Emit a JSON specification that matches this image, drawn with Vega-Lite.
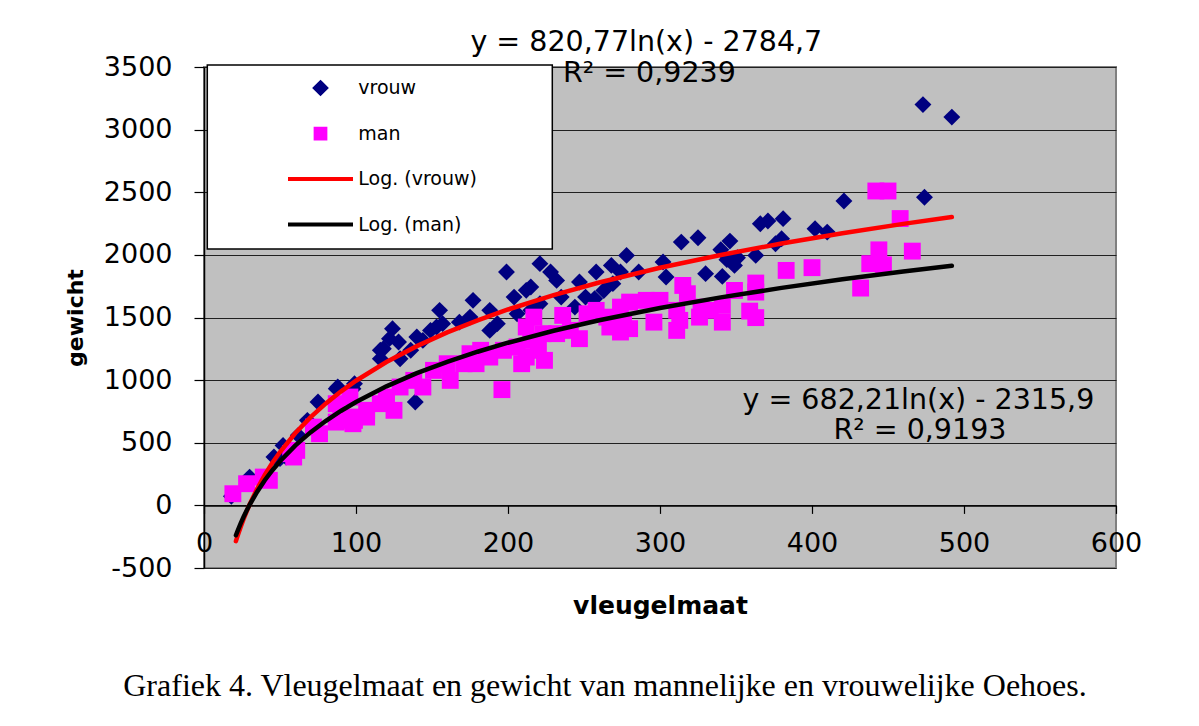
{
  "$schema": "https://vega.github.io/schema/vega-lite/v6.json",
  "autosize": "none",
  "width": 912,
  "height": 501,
  "padding": {"left": 204, "top": 67, "right": 83, "bottom": 158},
  "background": "white",
  "title": {
    "text": "Grafiek 4. Vleugelmaat en gewicht van mannelijke en vrouwelijke Oehoes.",
    "orient": "bottom", "frame": "group", "anchor": "middle", "dx": -55, "offset": 53,
    "font": "Liberation Serif", "fontSize": 32, "fontWeight": "normal", "color": "black"
  },
  "config": {
    "view": {"fill": "#C0C0C0", "stroke": "#808080", "strokeWidth": 2}
  },
  "datasets": {
    "punten": [
      {"serie": "vrouw", "vleugelmaat": 18, "gewicht": 72},
      {"serie": "vrouw", "vleugelmaat": 30, "gewicht": 226},
      {"serie": "vrouw", "vleugelmaat": 50, "gewicht": 373},
      {"serie": "vrouw", "vleugelmaat": 52, "gewicht": 479},
      {"serie": "vrouw", "vleugelmaat": 46, "gewicht": 386},
      {"serie": "vrouw", "vleugelmaat": 54, "gewicht": 386},
      {"serie": "vrouw", "vleugelmaat": 62, "gewicht": 559},
      {"serie": "vrouw", "vleugelmaat": 68, "gewicht": 679},
      {"serie": "vrouw", "vleugelmaat": 75, "gewicht": 825},
      {"serie": "vrouw", "vleugelmaat": 87, "gewicht": 932},
      {"serie": "vrouw", "vleugelmaat": 98, "gewicht": 932},
      {"serie": "vrouw", "vleugelmaat": 88, "gewicht": 945},
      {"serie": "vrouw", "vleugelmaat": 99, "gewicht": 972},
      {"serie": "vrouw", "vleugelmaat": 116, "gewicht": 1238},
      {"serie": "vrouw", "vleugelmaat": 122, "gewicht": 1331},
      {"serie": "vrouw", "vleugelmaat": 124, "gewicht": 1411},
      {"serie": "vrouw", "vleugelmaat": 128, "gewicht": 1304},
      {"serie": "vrouw", "vleugelmaat": 118, "gewicht": 1251},
      {"serie": "vrouw", "vleugelmaat": 116, "gewicht": 1171},
      {"serie": "vrouw", "vleugelmaat": 139, "gewicht": 825},
      {"serie": "vrouw", "vleugelmaat": 140, "gewicht": 1344},
      {"serie": "vrouw", "vleugelmaat": 149, "gewicht": 1397},
      {"serie": "vrouw", "vleugelmaat": 153, "gewicht": 1424},
      {"serie": "vrouw", "vleugelmaat": 157, "gewicht": 1451},
      {"serie": "vrouw", "vleugelmaat": 144, "gewicht": 1317},
      {"serie": "vrouw", "vleugelmaat": 136, "gewicht": 1238},
      {"serie": "vrouw", "vleugelmaat": 129, "gewicht": 1171},
      {"serie": "vrouw", "vleugelmaat": 155, "gewicht": 1557},
      {"serie": "vrouw", "vleugelmaat": 168, "gewicht": 1463},
      {"serie": "vrouw", "vleugelmaat": 175, "gewicht": 1503},
      {"serie": "vrouw", "vleugelmaat": 188, "gewicht": 1557},
      {"serie": "vrouw", "vleugelmaat": 193, "gewicht": 1451},
      {"serie": "vrouw", "vleugelmaat": 188, "gewicht": 1397},
      {"serie": "vrouw", "vleugelmaat": 177, "gewicht": 1637},
      {"serie": "vrouw", "vleugelmaat": 199, "gewicht": 1863},
      {"serie": "vrouw", "vleugelmaat": 204, "gewicht": 1663},
      {"serie": "vrouw", "vleugelmaat": 206, "gewicht": 1530},
      {"serie": "vrouw", "vleugelmaat": 212, "gewicht": 1717},
      {"serie": "vrouw", "vleugelmaat": 221, "gewicht": 1930},
      {"serie": "vrouw", "vleugelmaat": 228, "gewicht": 1863},
      {"serie": "vrouw", "vleugelmaat": 215, "gewicht": 1743},
      {"serie": "vrouw", "vleugelmaat": 232, "gewicht": 1796},
      {"serie": "vrouw", "vleugelmaat": 235, "gewicht": 1663},
      {"serie": "vrouw", "vleugelmaat": 247, "gewicht": 1783},
      {"serie": "vrouw", "vleugelmaat": 258, "gewicht": 1863},
      {"serie": "vrouw", "vleugelmaat": 268, "gewicht": 1916},
      {"serie": "vrouw", "vleugelmaat": 274, "gewicht": 1863},
      {"serie": "vrouw", "vleugelmaat": 269, "gewicht": 1770},
      {"serie": "vrouw", "vleugelmaat": 263, "gewicht": 1716},
      {"serie": "vrouw", "vleugelmaat": 251, "gewicht": 1663},
      {"serie": "vrouw", "vleugelmaat": 257, "gewicht": 1650},
      {"serie": "vrouw", "vleugelmaat": 244, "gewicht": 1583},
      {"serie": "vrouw", "vleugelmaat": 286, "gewicht": 1863},
      {"serie": "vrouw", "vleugelmaat": 215, "gewicht": 1557},
      {"serie": "vrouw", "vleugelmaat": 221, "gewicht": 1610},
      {"serie": "vrouw", "vleugelmaat": 278, "gewicht": 1996},
      {"serie": "vrouw", "vleugelmaat": 302, "gewicht": 1943},
      {"serie": "vrouw", "vleugelmaat": 304, "gewicht": 1823},
      {"serie": "vrouw", "vleugelmaat": 314, "gewicht": 2102},
      {"serie": "vrouw", "vleugelmaat": 325, "gewicht": 2137},
      {"serie": "vrouw", "vleugelmaat": 330, "gewicht": 1850},
      {"serie": "vrouw", "vleugelmaat": 346, "gewicht": 2110},
      {"serie": "vrouw", "vleugelmaat": 340, "gewicht": 2041},
      {"serie": "vrouw", "vleugelmaat": 351, "gewicht": 1977},
      {"serie": "vrouw", "vleugelmaat": 344, "gewicht": 1962},
      {"serie": "vrouw", "vleugelmaat": 349, "gewicht": 1916},
      {"serie": "vrouw", "vleugelmaat": 363, "gewicht": 1996},
      {"serie": "vrouw", "vleugelmaat": 341, "gewicht": 1828},
      {"serie": "vrouw", "vleugelmaat": 366, "gewicht": 2249},
      {"serie": "vrouw", "vleugelmaat": 371, "gewicht": 2270},
      {"serie": "vrouw", "vleugelmaat": 381, "gewicht": 2289},
      {"serie": "vrouw", "vleugelmaat": 380, "gewicht": 2129},
      {"serie": "vrouw", "vleugelmaat": 376, "gewicht": 2089},
      {"serie": "vrouw", "vleugelmaat": 402, "gewicht": 2209},
      {"serie": "vrouw", "vleugelmaat": 410, "gewicht": 2182},
      {"serie": "vrouw", "vleugelmaat": 421, "gewicht": 2430},
      {"serie": "vrouw", "vleugelmaat": 474, "gewicht": 2460},
      {"serie": "vrouw", "vleugelmaat": 473, "gewicht": 3200},
      {"serie": "vrouw", "vleugelmaat": 492, "gewicht": 3100},
      {"serie": "man", "vleugelmaat": 19, "gewicht": 93},
      {"serie": "man", "vleugelmaat": 28, "gewicht": 173},
      {"serie": "man", "vleugelmaat": 39, "gewicht": 226},
      {"serie": "man", "vleugelmaat": 43, "gewicht": 200},
      {"serie": "man", "vleugelmaat": 57, "gewicht": 413},
      {"serie": "man", "vleugelmaat": 61, "gewicht": 439},
      {"serie": "man", "vleugelmaat": 59, "gewicht": 386},
      {"serie": "man", "vleugelmaat": 72, "gewicht": 625},
      {"serie": "man", "vleugelmaat": 76, "gewicht": 572},
      {"serie": "man", "vleugelmaat": 90, "gewicht": 679},
      {"serie": "man", "vleugelmaat": 98, "gewicht": 652},
      {"serie": "man", "vleugelmaat": 107, "gewicht": 705},
      {"serie": "man", "vleugelmaat": 120, "gewicht": 825},
      {"serie": "man", "vleugelmaat": 125, "gewicht": 759},
      {"serie": "man", "vleugelmaat": 87, "gewicht": 812},
      {"serie": "man", "vleugelmaat": 96, "gewicht": 865},
      {"serie": "man", "vleugelmaat": 98, "gewicht": 705},
      {"serie": "man", "vleugelmaat": 107, "gewicht": 759},
      {"serie": "man", "vleugelmaat": 116, "gewicht": 812},
      {"serie": "man", "vleugelmaat": 120, "gewicht": 865},
      {"serie": "man", "vleugelmaat": 129, "gewicht": 945},
      {"serie": "man", "vleugelmaat": 138, "gewicht": 998},
      {"serie": "man", "vleugelmaat": 144, "gewicht": 945},
      {"serie": "man", "vleugelmaat": 151, "gewicht": 1078},
      {"serie": "man", "vleugelmaat": 160, "gewicht": 1131},
      {"serie": "man", "vleugelmaat": 162, "gewicht": 998},
      {"serie": "man", "vleugelmaat": 171, "gewicht": 1131},
      {"serie": "man", "vleugelmaat": 175, "gewicht": 1211},
      {"serie": "man", "vleugelmaat": 182, "gewicht": 1238},
      {"serie": "man", "vleugelmaat": 188, "gewicht": 1184},
      {"serie": "man", "vleugelmaat": 179, "gewicht": 1131},
      {"serie": "man", "vleugelmaat": 197, "gewicht": 1238},
      {"serie": "man", "vleugelmaat": 206, "gewicht": 1264},
      {"serie": "man", "vleugelmaat": 209, "gewicht": 1131},
      {"serie": "man", "vleugelmaat": 212, "gewicht": 1184},
      {"serie": "man", "vleugelmaat": 215, "gewicht": 1317},
      {"serie": "man", "vleugelmaat": 87, "gewicht": 665},
      {"serie": "man", "vleugelmaat": 99, "gewicht": 679},
      {"serie": "man", "vleugelmaat": 196, "gewicht": 924},
      {"serie": "man", "vleugelmaat": 217, "gewicht": 1503},
      {"serie": "man", "vleugelmaat": 212, "gewicht": 1424},
      {"serie": "man", "vleugelmaat": 223, "gewicht": 1371},
      {"serie": "man", "vleugelmaat": 220, "gewicht": 1238},
      {"serie": "man", "vleugelmaat": 224, "gewicht": 1158},
      {"serie": "man", "vleugelmaat": 236, "gewicht": 1517},
      {"serie": "man", "vleugelmaat": 241, "gewicht": 1397},
      {"serie": "man", "vleugelmaat": 247, "gewicht": 1331},
      {"serie": "man", "vleugelmaat": 232, "gewicht": 1371},
      {"serie": "man", "vleugelmaat": 258, "gewicht": 1557},
      {"serie": "man", "vleugelmaat": 265, "gewicht": 1503},
      {"serie": "man", "vleugelmaat": 252, "gewicht": 1530},
      {"serie": "man", "vleugelmaat": 276, "gewicht": 1477},
      {"serie": "man", "vleugelmaat": 280, "gewicht": 1411},
      {"serie": "man", "vleugelmaat": 267, "gewicht": 1424},
      {"serie": "man", "vleugelmaat": 274, "gewicht": 1384},
      {"serie": "man", "vleugelmaat": 300, "gewicht": 1637},
      {"serie": "man", "vleugelmaat": 291, "gewicht": 1637},
      {"serie": "man", "vleugelmaat": 280, "gewicht": 1623},
      {"serie": "man", "vleugelmaat": 274, "gewicht": 1583},
      {"serie": "man", "vleugelmaat": 296, "gewicht": 1463},
      {"serie": "man", "vleugelmaat": 311, "gewicht": 1397},
      {"serie": "man", "vleugelmaat": 313, "gewicht": 1477},
      {"serie": "man", "vleugelmaat": 315, "gewicht": 1756},
      {"serie": "man", "vleugelmaat": 318, "gewicht": 1690},
      {"serie": "man", "vleugelmaat": 311, "gewicht": 1557},
      {"serie": "man", "vleugelmaat": 327, "gewicht": 1583},
      {"serie": "man", "vleugelmaat": 326, "gewicht": 1503},
      {"serie": "man", "vleugelmaat": 341, "gewicht": 1597},
      {"serie": "man", "vleugelmaat": 333, "gewicht": 1557},
      {"serie": "man", "vleugelmaat": 359, "gewicht": 1551},
      {"serie": "man", "vleugelmaat": 363, "gewicht": 1499},
      {"serie": "man", "vleugelmaat": 341, "gewicht": 1463},
      {"serie": "man", "vleugelmaat": 363, "gewicht": 1775},
      {"serie": "man", "vleugelmaat": 349, "gewicht": 1716},
      {"serie": "man", "vleugelmaat": 363, "gewicht": 1703},
      {"serie": "man", "vleugelmaat": 383, "gewicht": 1876},
      {"serie": "man", "vleugelmaat": 400, "gewicht": 1898},
      {"serie": "man", "vleugelmaat": 432, "gewicht": 1735},
      {"serie": "man", "vleugelmaat": 438, "gewicht": 1930},
      {"serie": "man", "vleugelmaat": 447, "gewicht": 1920},
      {"serie": "man", "vleugelmaat": 444, "gewicht": 2040},
      {"serie": "man", "vleugelmaat": 466, "gewicht": 2030},
      {"serie": "man", "vleugelmaat": 458, "gewicht": 2290},
      {"serie": "man", "vleugelmaat": 442, "gewicht": 2510},
      {"serie": "man", "vleugelmaat": 450, "gewicht": 2510}
    ],
    "trend": [
      {"serie": "Log. (vrouw)", "vleugelmaat": 21, "gewicht": -285.9},
      {"serie": "Log. (vrouw)", "vleugelmaat": 22, "gewicht": -247.7},
      {"serie": "Log. (vrouw)", "vleugelmaat": 24, "gewicht": -176.3},
      {"serie": "Log. (vrouw)", "vleugelmaat": 26, "gewicht": -110.5},
      {"serie": "Log. (vrouw)", "vleugelmaat": 28, "gewicht": -49.7},
      {"serie": "Log. (vrouw)", "vleugelmaat": 30, "gewicht": 6.9},
      {"serie": "Log. (vrouw)", "vleugelmaat": 35, "gewicht": 133.4},
      {"serie": "Log. (vrouw)", "vleugelmaat": 40, "gewicht": 243.0},
      {"serie": "Log. (vrouw)", "vleugelmaat": 45, "gewicht": 339.7},
      {"serie": "Log. (vrouw)", "vleugelmaat": 50, "gewicht": 426.2},
      {"serie": "Log. (vrouw)", "vleugelmaat": 60, "gewicht": 575.8},
      {"serie": "Log. (vrouw)", "vleugelmaat": 70, "gewicht": 702.3},
      {"serie": "Log. (vrouw)", "vleugelmaat": 80, "gewicht": 811.9},
      {"serie": "Log. (vrouw)", "vleugelmaat": 90, "gewicht": 908.6},
      {"serie": "Log. (vrouw)", "vleugelmaat": 100, "gewicht": 995.1},
      {"serie": "Log. (vrouw)", "vleugelmaat": 120, "gewicht": 1144.7},
      {"serie": "Log. (vrouw)", "vleugelmaat": 140, "gewicht": 1271.3},
      {"serie": "Log. (vrouw)", "vleugelmaat": 160, "gewicht": 1380.9},
      {"serie": "Log. (vrouw)", "vleugelmaat": 180, "gewicht": 1477.5},
      {"serie": "Log. (vrouw)", "vleugelmaat": 200, "gewicht": 1564.0},
      {"serie": "Log. (vrouw)", "vleugelmaat": 230, "gewicht": 1678.7},
      {"serie": "Log. (vrouw)", "vleugelmaat": 260, "gewicht": 1779.3},
      {"serie": "Log. (vrouw)", "vleugelmaat": 300, "gewicht": 1896.8},
      {"serie": "Log. (vrouw)", "vleugelmaat": 340, "gewicht": 1999.5},
      {"serie": "Log. (vrouw)", "vleugelmaat": 380, "gewicht": 2090.8},
      {"serie": "Log. (vrouw)", "vleugelmaat": 420, "gewicht": 2173.0},
      {"serie": "Log. (vrouw)", "vleugelmaat": 460, "gewicht": 2247.6},
      {"serie": "Log. (vrouw)", "vleugelmaat": 492, "gewicht": 2302.8},
      {"serie": "Log. (man)", "vleugelmaat": 21, "gewicht": -238.9},
      {"serie": "Log. (man)", "vleugelmaat": 22, "gewicht": -207.2},
      {"serie": "Log. (man)", "vleugelmaat": 24, "gewicht": -147.8},
      {"serie": "Log. (man)", "vleugelmaat": 26, "gewicht": -93.2},
      {"serie": "Log. (man)", "vleugelmaat": 28, "gewicht": -42.6},
      {"serie": "Log. (man)", "vleugelmaat": 30, "gewicht": 4.4},
      {"serie": "Log. (man)", "vleugelmaat": 35, "gewicht": 109.6},
      {"serie": "Log. (man)", "vleugelmaat": 40, "gewicht": 200.7},
      {"serie": "Log. (man)", "vleugelmaat": 45, "gewicht": 281.0},
      {"serie": "Log. (man)", "vleugelmaat": 50, "gewicht": 352.9},
      {"serie": "Log. (man)", "vleugelmaat": 60, "gewicht": 477.3},
      {"serie": "Log. (man)", "vleugelmaat": 70, "gewicht": 582.5},
      {"serie": "Log. (man)", "vleugelmaat": 80, "gewicht": 673.6},
      {"serie": "Log. (man)", "vleugelmaat": 90, "gewicht": 753.9},
      {"serie": "Log. (man)", "vleugelmaat": 100, "gewicht": 825.8},
      {"serie": "Log. (man)", "vleugelmaat": 120, "gewicht": 950.2},
      {"serie": "Log. (man)", "vleugelmaat": 140, "gewicht": 1055.3},
      {"serie": "Log. (man)", "vleugelmaat": 160, "gewicht": 1146.4},
      {"serie": "Log. (man)", "vleugelmaat": 180, "gewicht": 1226.8},
      {"serie": "Log. (man)", "vleugelmaat": 200, "gewicht": 1298.7},
      {"serie": "Log. (man)", "vleugelmaat": 230, "gewicht": 1394.0},
      {"serie": "Log. (man)", "vleugelmaat": 260, "gewicht": 1477.7},
      {"serie": "Log. (man)", "vleugelmaat": 300, "gewicht": 1575.3},
      {"serie": "Log. (man)", "vleugelmaat": 340, "gewicht": 1660.7},
      {"serie": "Log. (man)", "vleugelmaat": 380, "gewicht": 1736.5},
      {"serie": "Log. (man)", "vleugelmaat": 420, "gewicht": 1804.8},
      {"serie": "Log. (man)", "vleugelmaat": 460, "gewicht": 1866.9},
      {"serie": "Log. (man)", "vleugelmaat": 492, "gewicht": 1912.8}
    ],
    "teksten": [
      {"vleugelmaat": 291, "gewicht": 3697, "tekst": "y = 820,77ln(x) - 2784,7"},
      {"vleugelmaat": 293, "gewicht": 3449, "tekst": "R² = 0,9239"},
      {"vleugelmaat": 470, "gewicht": 838, "tekst": "y = 682,21ln(x) - 2315,9"},
      {"vleugelmaat": 471, "gewicht": 599, "tekst": "R² = 0,9193"}
    ]
  },
  "layer": [
    {
      "data": {"name": "punten"},
      "mark": {"type": "point", "filled": true, "size": 285, "opacity": 1, "strokeWidth": 0},
      "encoding": {
        "x": {
          "field": "vleugelmaat", "type": "quantitative", "title": "vleugelmaat",
          "scale": {"domain": [0, 600], "nice": false, "zero": false},
          "axis": {
            "values": [0, 100, 200, 300, 400, 500, 600], "offset": -62.6, "grid": false,
            "domainColor": "black", "domainWidth": 1.5, "tickColor": "black", "tickSize": 8, "tickWidth": 1.2,
            "labelPadding": 17, "labelFont": "DejaVu Sans", "labelFontSize": 27, "labelColor": "black",
            "labelExpr": "'' + datum.value", "labelOverlap": false, "labelFlush": false, "labelBound": false,
            "titleFont": "DejaVu Sans", "titleFontSize": 25, "titleFontWeight": "bold", "titleColor": "black", "titlePadding": 37
          }
        },
        "y": {
          "field": "gewicht", "type": "quantitative", "title": "gewicht",
          "scale": {"domain": [-500, 3500], "nice": false, "zero": false},
          "axis": {
            "values": [-500, 0, 500, 1000, 1500, 2000, 2500, 3000, 3500], "grid": true,
            "gridColor": "#202020", "gridOpacity": 1, "gridWidth": 1.2,
            "domainColor": "black", "domainWidth": 1.5, "tickColor": "black", "tickSize": 10, "tickWidth": 1.2,
            "labelPadding": 22, "labelFont": "DejaVu Sans", "labelFontSize": 27, "labelColor": "black",
            "labelExpr": "'' + datum.value", "labelOverlap": false, "labelFlush": false,
            "titleFont": "DejaVu Sans", "titleFontSize": 22, "titleFontWeight": "bold", "titleColor": "black", "titlePadding": 16
          }
        },
        "color": {
          "field": "serie", "type": "nominal",
          "scale": {"domain": ["vrouw", "man", "Log. (vrouw)", "Log. (man)"], "range": ["#000080", "#FF00FF", "#FF0000", "#000000"]},
          "legend": {
            "orient": "none", "legendX": 3.3, "legendY": -2,
            "title": "M", "titleOrient": "right", "titleColor": "transparent", "titleFontSize": 13, "titlePadding": 50,
            "fillColor": "white", "strokeColor": "black",
            "padding": 14, "columns": 1, "clipHeight": 18, "rowPadding": 26.5,
            "symbolOffset": 64.7, "labelOffset": 3.3, "symbolSize": 4225, "symbolStrokeWidth": 4,
            "labelFont": "DejaVu Sans", "labelFontSize": 19, "labelColor": "black", "labelLimit": 400,
            "encode": {
              "legend": {"update": {"strokeWidth": {"value": 1.5}}},
              "symbols": {
                "update": {
                  "shape": {"signal": "datum.value === 'vrouw' ? 'M0,-0.17L0.17,0L0,0.17L-0.17,0Z' : datum.value === 'man' ? 'M-0.15,-0.15L0.15,-0.15L0.15,0.15L-0.15,0.15Z' : 'stroke'"},
                  "fill": {"signal": "scale('color', datum.value)"},
                  "stroke": {"signal": "indexof(datum.value, 'Log') >= 0 ? scale('color', datum.value) : 'transparent'"},
                  "opacity": {"value": 1}
                }
              }
            }
          }
        },
        "shape": {
          "field": "serie", "type": "nominal",
          "scale": {"domain": ["vrouw", "man"], "range": ["diamond", "square"]},
          "legend": null
        }
      }
    },
    {
      "data": {"name": "trend"},
      "mark": {"type": "line", "strokeWidth": 4.5, "strokeCap": "round"},
      "encoding": {
        "x": {"field": "vleugelmaat", "type": "quantitative"},
        "y": {"field": "gewicht", "type": "quantitative"},
        "color": {
          "field": "serie", "type": "nominal",
          "legend": {
            "orient": "none", "legendX": 3.3, "legendY": -2,
            "title": "M", "titleOrient": "right", "titleColor": "transparent", "titleFontSize": 13, "titlePadding": 50,
            "fillColor": "white", "strokeColor": "black",
            "padding": 14, "columns": 1, "clipHeight": 18, "rowPadding": 26.5,
            "symbolOffset": 64.7, "labelOffset": 3.3, "symbolSize": 4225, "symbolStrokeWidth": 4,
            "labelFont": "DejaVu Sans", "labelFontSize": 19, "labelColor": "black", "labelLimit": 400,
            "encode": {
              "legend": {"update": {"strokeWidth": {"value": 1.5}}},
              "symbols": {
                "update": {
                  "shape": {"signal": "datum.value === 'vrouw' ? 'M0,-0.17L0.17,0L0,0.17L-0.17,0Z' : datum.value === 'man' ? 'M-0.15,-0.15L0.15,-0.15L0.15,0.15L-0.15,0.15Z' : 'stroke'"},
                  "fill": {"signal": "scale('color', datum.value)"},
                  "stroke": {"signal": "indexof(datum.value, 'Log') >= 0 ? scale('color', datum.value) : 'transparent'"},
                  "opacity": {"value": 1}
                }
              }
            }
          }
        }
      }
    },
    {
      "data": {"name": "teksten"},
      "mark": {"type": "text", "font": "DejaVu Sans", "fontSize": 28.5, "color": "black", "align": "center", "baseline": "middle"},
      "encoding": {
        "x": {"field": "vleugelmaat", "type": "quantitative"},
        "y": {"field": "gewicht", "type": "quantitative"},
        "text": {"field": "tekst"}
      }
    }
  ]
}
